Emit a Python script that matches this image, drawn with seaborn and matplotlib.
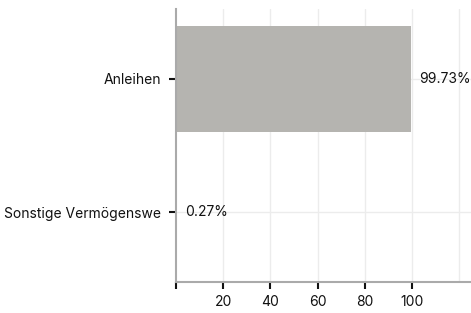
import matplotlib
matplotlib.use("Agg")
import matplotlib.pyplot as plt
import seaborn as sns
import pandas as pd

categories = ["Anleihen", "Sonstige Vermögenswe"]
values = [99.73, 0.27]
value_labels = ["99.73%", "0.27%"]

df = pd.DataFrame({"category": categories, "value": values})

sns.set_style("white")
plt.rcParams["font.family"] = ["Inter", "DejaVu Sans"]
plt.rcParams["xtick.bottom"] = True
plt.rcParams["ytick.left"] = True

fig = plt.figure(figsize=(4.71, 3.13), dpi=100)
ax = fig.add_axes([176 / 471, 31 / 313, 295 / 471, 273 / 313])

sns.barplot(data=df, x="value", y="category", color="#b5b4b0", width=0.8,
            saturation=1, linewidth=0, ax=ax)

ax.set_xlim(0, 125)
ax.set_ylim(1.526, -0.526)
ax.set_xticks([0, 20, 40, 60, 80, 100, 120])
ax.set_xticklabels(["", "20", "40", "60", "80", "100", ""])
ax.set_xlabel("")
ax.set_ylabel("")

# grid lines
for xv in [20, 40, 60, 80, 100, 120]:
    ax.axvline(xv, color="#ececec", lw=1, zorder=0)
for yv in range(len(categories)):
    ax.axhline(yv, color="#ececec", lw=1, zorder=0)

for i, (v, lab) in enumerate(zip(values, value_labels)):
    ax.text(v + 3.5, i, lab, va="center", ha="left", fontsize=10, color="#111111")

ax.tick_params(axis="both", labelsize=10, colors="#111111", length=5, width=1.5,
               direction="out", bottom=True, left=True)
ax.tick_params(axis="y", pad=6)
ax.tick_params(axis="x", pad=4)
xt = ax.get_xticklines()
xt[-2].set_visible(False)

for s in ["top", "right"]:
    ax.spines[s].set_visible(False)
for s in ["left", "bottom"]:
    ax.spines[s].set_color("#aaaaaa")
    ax.spines[s].set_linewidth(1.5)

fig.savefig("out.png", dpi=100)
